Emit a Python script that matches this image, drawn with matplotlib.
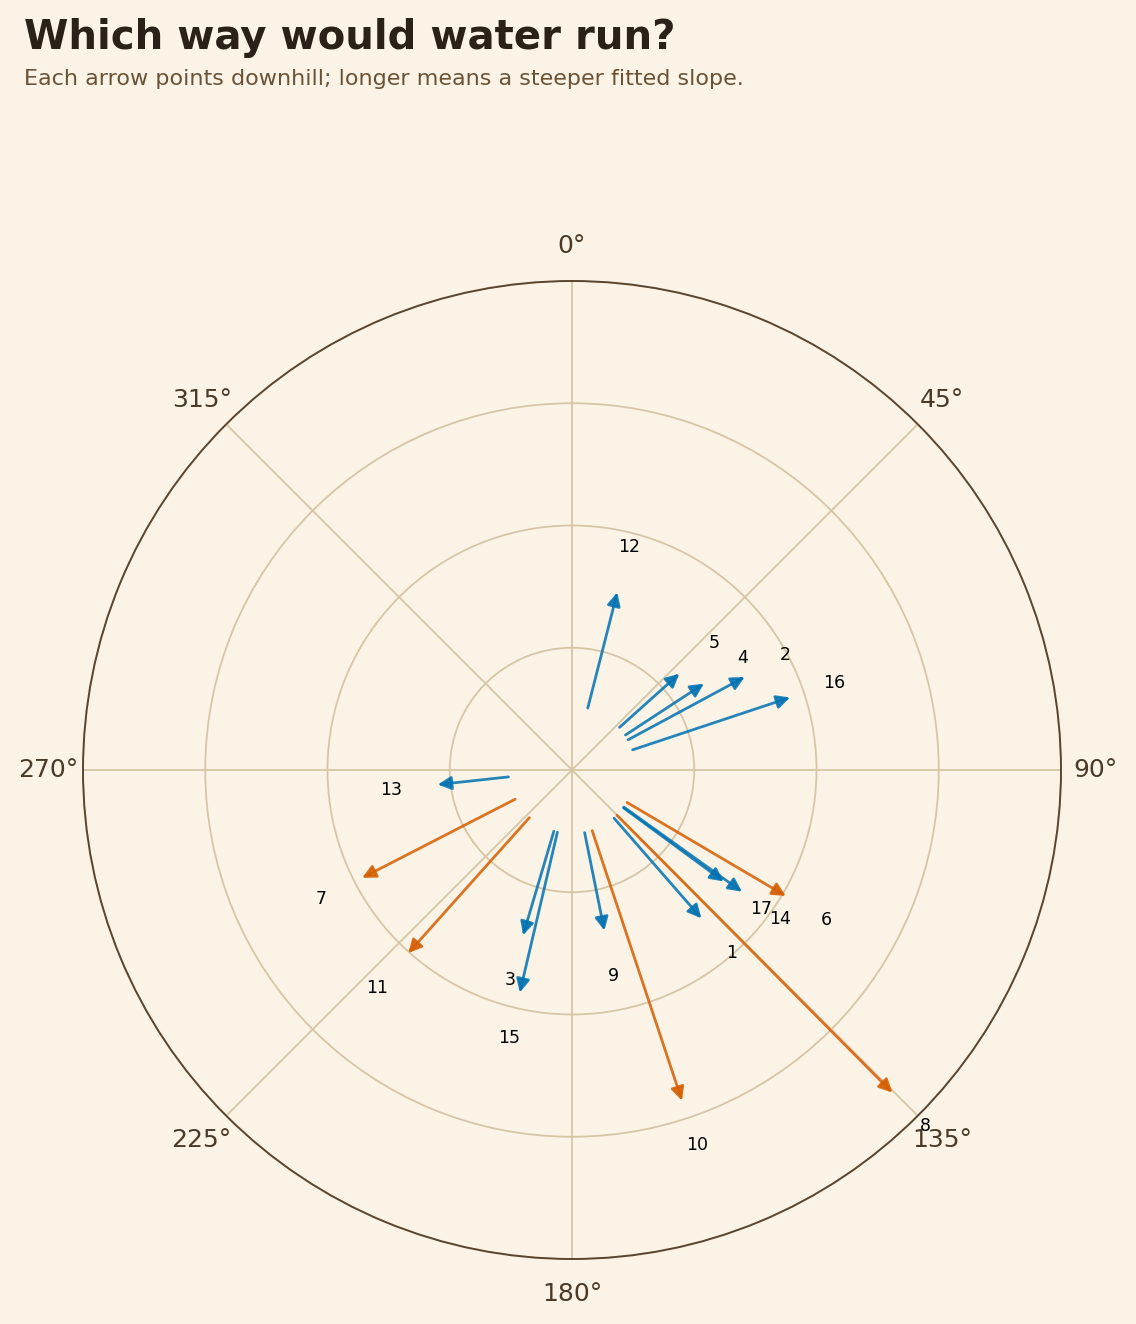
import numpy as np
import matplotlib.pyplot as plt

BG = "#faf3e6"
BLUE = "#0072B2"
ORANGE = "#D55E00"

# plot ids, downhill bearing (deg, clockwise from north), arrow length
ids = [12, 5, 4, 2, 16, 13, 7, 11, 3, 15, 9, 10, 1, 8, 17, 14, 6]
bearing = [14.3, 48.1, 56.8, 61.7, 71.6, 263.8, 242.8, 221.8, 196.5, 193.2,
           168.6, 161.6, 138.9, 135.2, 126.3, 125.6, 120.5]
slope = [1.00, 0.68, 0.79, 1.105, 1.38, 0.605, 1.43, 1.51, 0.91, 1.37,
         0.84, 2.35, 1.11, 3.22, 1.04, 1.21, 1.53]
steep = [False, False, False, False, False, False, True, True, False, False,
         False, True, False, True, False, False, True]

tick_deg = [0, 45, 90, 135, 180, 225, 270, 315]
tick_lbl = ["0°", "45°", "90°", "135°", "180°", "225°", "270°", "315°"]

R0 = 0.5

fig = plt.figure(figsize=(11.36, 13.24), dpi=100, facecolor=BG)
ax = fig.add_axes([83 / 1136, 65 / 1324, 978 / 1136, 978 / 1324], projection="polar")
ax.set_facecolor(BG)
ax.set_theta_zero_location("N")
ax.set_theta_direction(-1)
ax.set_ylim(0, 4)
ax.set_yticks([1, 2, 3, 4])
ax.set_yticklabels([])
ax.set_xticks(np.deg2rad(tick_deg))
ax.set_xticklabels(tick_lbl, fontsize=18, color="#4a3a28")
ax.tick_params(axis="x", pad=14.5)
ax.grid(True, color="#d6c6a6", lw=1.3)
ax.spines["polar"].set_color("#5a4630")
ax.spines["polar"].set_linewidth(1.4)

for i, b, s, st in zip(ids, bearing, slope, steep):
    th = np.deg2rad(b)
    c = ORANGE if st else BLUE
    ax.annotate("", xy=(th, R0 + s), xytext=(th, R0),
                arrowprops=dict(arrowstyle="-|>", color=c, lw=2.0,
                                mutation_scale=20, alpha=0.85, shrinkB=0))
    ax.text(th, R0 + s + 0.38, str(i), ha="center", va="center",
            fontsize=12.5, color="black", clip_on=False)

fig.text(24 / 1136, 1 - 49 / 1324, "Which way would water run?", fontsize=29,
         fontweight="bold", color="#2a2216", va="baseline")
fig.text(24 / 1136, 1 - 85 / 1324,
         "Each arrow points downhill; longer means a steeper fitted slope.",
         fontsize=16, color="#6b5236", va="baseline")

fig.savefig("out.png", dpi=100, facecolor=BG)
